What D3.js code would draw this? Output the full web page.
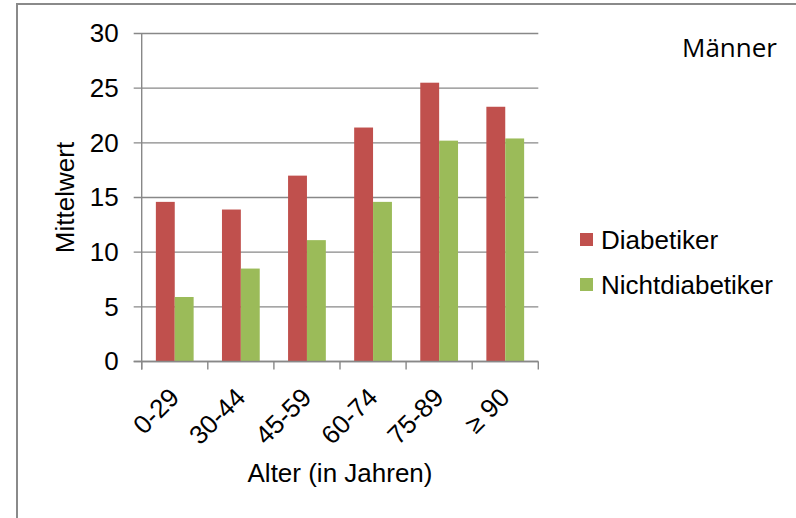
<!DOCTYPE html>
<html>
<head>
<meta charset="utf-8">
<script src="https://cdn.jsdelivr.net/npm/d3@7"></script>
<style>
  html, body { margin: 0; padding: 0; background: #fff; }
  svg { display: block; }
  text { font-family: "Liberation Sans", Arial, sans-serif; fill: #000; }
</style>
</head>
<body>
<svg id="chart" width="796" height="518"></svg>
<script>
// Mean values by age group, men
const categories = ["0-29", "30-44", "45-59", "60-74", "75-89", "≥ 90"];
const seriesNames = ["Diabetiker", "Nichtdiabetiker"];
const diabetiker = [14.6, 13.9, 17.0, 21.4, 25.5, 23.3];
const nichtdiabetiker = [5.9, 8.5, 11.1, 14.6, 20.2, 20.4];
const yTicks = [0, 5, 10, 15, 20, 25, 30];
const colors = ["#C0504D", "#9BBB59"];

const values = [diabetiker, nichtdiabetiker];
const rows = categories.map((c, i) => ({
  cat: c,
  vals: seriesNames.map((s, j) => ({ series: s, value: values[j][i], color: colors[j] }))
}));

const svg = d3.select("#chart");
const plotLeft = 141.7, plotRight = 538.3, plotTop = 33.5, plotBottom = 361.5;
const gridColor = "#888888";
const fontSize = "26px";

// outer frame
svg.append("rect")
  .attr("x", 17).attr("y", 4)
  .attr("width", 800).attr("height", 540)
  .attr("fill", "none").attr("stroke", "#8a8a8a").attr("stroke-width", 2);

const x = d3.scaleBand().domain(categories).range([plotLeft, plotRight]).paddingInner(0).paddingOuter(0);
const bw = x.bandwidth();
const gap = bw * 0.75 / 3.5;
const x1 = d3.scaleBand().domain(seriesNames).range([gap, bw - gap]).padding(0);
const y = d3.scaleLinear().domain([0, 30]).range([plotBottom, plotTop]);

// horizontal gridlines (with outward tick stubs)
svg.append("g").selectAll("line").data(yTicks).join("line")
  .attr("x1", plotLeft - 8).attr("x2", plotRight)
  .attr("y1", d => y(d)).attr("y2", d => y(d))
  .attr("stroke", gridColor).attr("stroke-width", 1.4);

// y axis labels
const yAxis = d3.axisLeft(y).tickValues(yTicks).tickSize(8).tickPadding(15).tickFormat(d3.format("d"));
const gy = svg.append("g").attr("transform", `translate(${plotLeft},0)`).call(yAxis);
gy.select(".domain").remove();
gy.selectAll(".tick line").remove();
gy.selectAll(".tick text")
  .style("font-family", "'Liberation Sans', Arial, sans-serif")
  .style("font-size", fontSize).attr("fill", "#000");

// bars
const groups = svg.append("g").selectAll("g").data(rows).join("g")
  .attr("transform", d => `translate(${x(d.cat)},0)`);
groups.selectAll("rect").data(d => d.vals).join("rect")
  .attr("x", d => x1(d.series))
  .attr("width", x1.bandwidth())
  .attr("y", d => y(d.value))
  .attr("height", d => y(0) - y(d.value))
  .attr("fill", d => d.color);

// y axis line
svg.append("line")
  .attr("x1", plotLeft).attr("x2", plotLeft).attr("y1", plotTop).attr("y2", plotBottom + 8)
  .attr("stroke", gridColor).attr("stroke-width", 1.4);

// x axis line and category boundary ticks
svg.append("line")
  .attr("x1", plotLeft - 8).attr("x2", plotRight).attr("y1", plotBottom).attr("y2", plotBottom)
  .attr("stroke", gridColor).attr("stroke-width", 1.4);
const bounds = categories.map(c => x(c)).concat([x.range()[1]]);
svg.append("g").selectAll("line").data(bounds).join("line")
  .attr("x1", d => d).attr("x2", d => d)
  .attr("y1", plotBottom).attr("y2", plotBottom + 8)
  .attr("stroke", gridColor).attr("stroke-width", 1.4);

// rotated category labels
svg.append("g").selectAll("text").data(categories).join("text")
  .attr("transform", d => `translate(${x(d) + bw / 2 - 7},386) rotate(-45)`)
  .attr("text-anchor", "end")
  .attr("dy", "0.71em")
  .style("font-size", fontSize)
  .text(d => d);

// axis titles
svg.append("text")
  .attr("x", (plotLeft + plotRight) / 2).attr("y", 482)
  .attr("text-anchor", "middle")
  .style("font-size", fontSize)
  .text("Alter (in Jahren)");

svg.append("text")
  .attr("transform", "translate(74,197.5) rotate(-90)")
  .attr("text-anchor", "middle")
  .style("font-size", fontSize)
  .text("Mittelwert");

// legend
const legend = svg.append("g").selectAll("g").data(seriesNames).join("g")
  .attr("transform", (d, i) => `translate(580,${233 + i * 45})`);
legend.append("rect")
  .attr("width", 13).attr("height", 13)
  .attr("fill", (d, i) => colors[i]);
legend.append("text")
  .attr("x", 21).attr("y", 16)
  .style("font-size", fontSize)
  .text(d => d);

// panel title
svg.append("text")
  .attr("x", 682).attr("y", 57)
  .style("font-family", "'Open Sans', 'Noto Sans', sans-serif")
  .style("font-size", "26px")
  .text("Männer");
</script>
</body>
</html>
